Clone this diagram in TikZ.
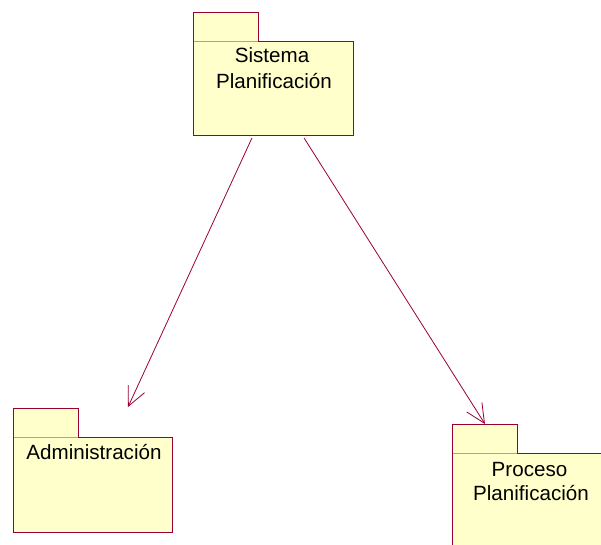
\documentclass[tikz,border=0pt]{standalone}
\usepackage{fontspec}
\setmainfont{Liberation Sans}
\usetikzlibrary{arrows.meta,calc}
\definecolor{pkgfill}{RGB}{255,255,204}
\definecolor{pkgline}{RGB}{153,0,51}
\definecolor{pkgsep}{RGB}{214,140,165}
\begin{document}
\begin{tikzpicture}[x=1pt,y=-1pt,
  pkgbody/.style={draw=pkgline, fill=pkgfill, line width=0.9pt, inner sep=0pt,
    anchor=north west, minimum width=#1},
  pkgtab/.style={draw=pkgline, fill=pkgfill, line width=0.9pt, inner sep=0pt,
    anchor=north west, minimum width=65, minimum height=29},
  pkglabel/.style={anchor=base, inner sep=0pt, font=\fontsize{20.6}{25}\selectfont},
  dep/.style={draw=pkgline, line width=0.8pt,
    -{Straight Barb[length=19pt,width=18pt,line width=0.8pt]}}
]
\useasboundingbox (0,0) rectangle (601,544);

% package: Sistema Planificacion
\node[pkgbody=160, minimum height=94] (sys) at (193,41) {};
\node[pkgtab] (systab) at (193,12) {};
\draw[pkgsep, line width=0.9pt] ($(systab.south west)+(0.5,0)$) -- ($(systab.south east)+(-0.5,0)$);
\node[pkglabel] (sysa) at (272,62) {Sistema};
\node[pkglabel] (sysb) at (274,88) {Planificación};

% package: Administracion
\node[pkgbody=159, minimum height=95] (adm) at (13,437) {};
\node[pkgtab] (admtab) at (13,408) {};
\draw[pkgsep, line width=0.9pt] ($(admtab.south west)+(0.5,0)$) -- ($(admtab.south east)+(-0.5,0)$);
\node[pkglabel] (adma) at (94,459) {Administración};

% package: Proceso Planificacion
\node[pkgbody=156, minimum height=110] (proc) at (452,453) {};
\node[pkgtab] (proctab) at (452,424) {};
\draw[pkgsep, line width=0.9pt] ($(proctab.south west)+(0.5,0)$) -- ($(proctab.south east)+(-0.5,0)$);
\node[pkglabel] (proca) at (529.5,476) {Proceso};
\node[pkglabel] (procb) at (531,500) {Planificación};

% dependencies
\coordinate (admtip) at ($(adm.north west)+(115,-30)$);
\draw[dep] ($(sys.south west)+(59,2)$) -- (admtip);
\draw[dep] ($(sys.south west)+(111,2)$) -- (proctab.north);
\end{tikzpicture}
\end{document}
